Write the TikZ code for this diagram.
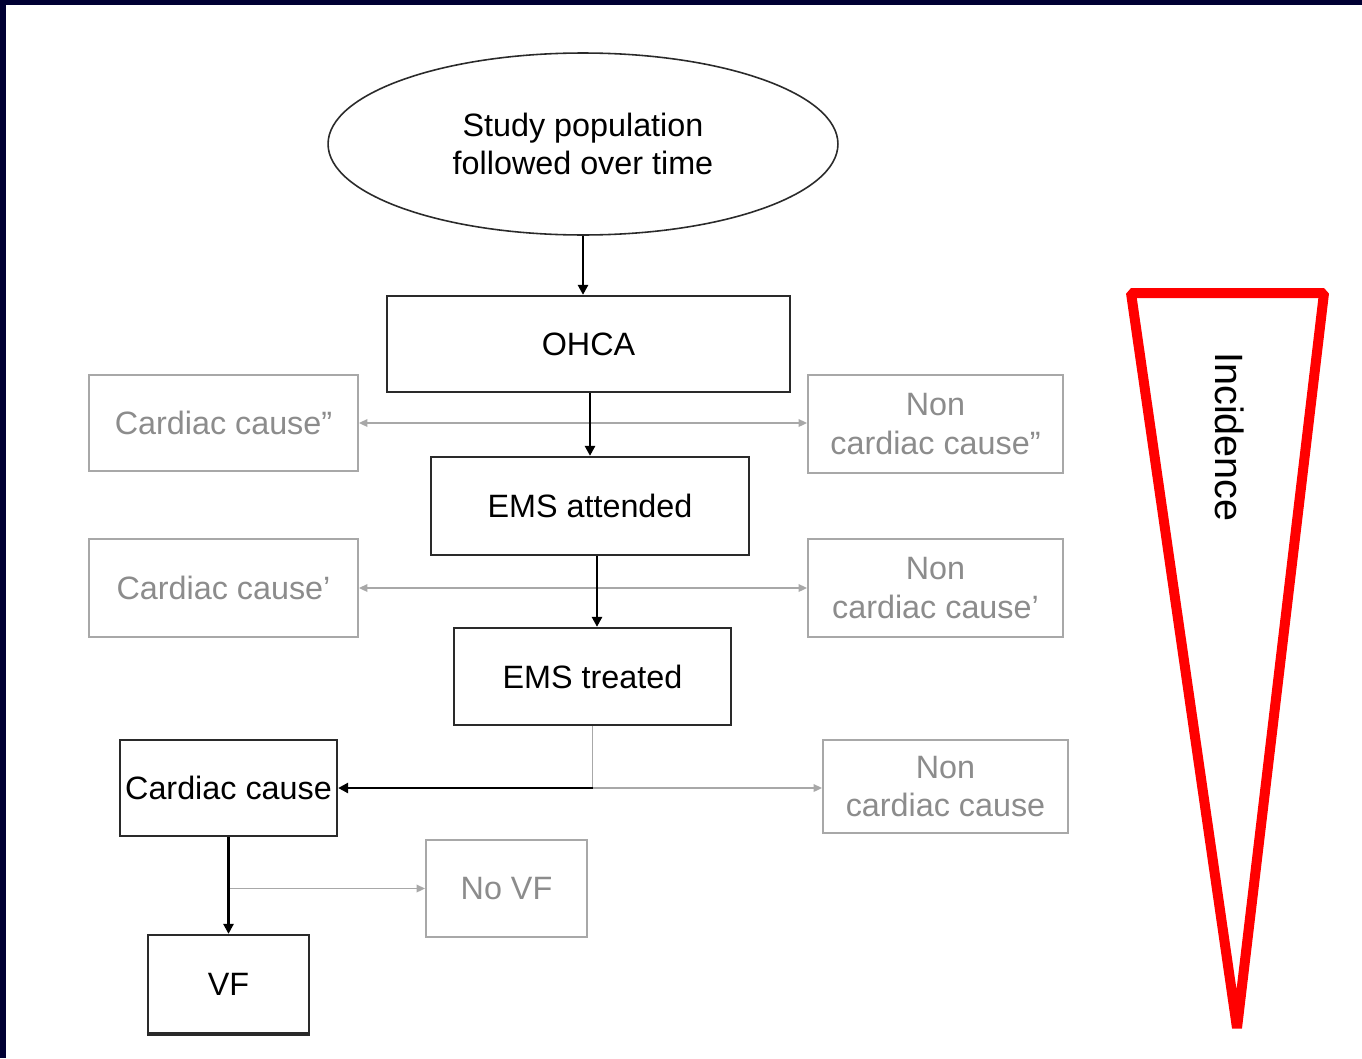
\documentclass[tikz,border=0pt]{standalone}
\usepackage{fontspec}
\setmainfont{Liberation Sans}
\usetikzlibrary{shapes.geometric,arrows.meta}
\definecolor{slidenavy}{HTML}{000033}
\definecolor{boxline}{HTML}{2A2A2A}
\definecolor{greyline}{HTML}{A8A8A8}
\definecolor{greytext}{HTML}{8C8C8C}
\definecolor{wedgered}{HTML}{FF0000}
\tikzset{
  stage/.style={draw=boxline, line width=1.3pt, inner sep=0pt, text=black,
    font=\fontsize{18.4}{21.8}\selectfont, align=center},
  other/.style={draw=greyline, line width=1.1pt, inner sep=0pt, text=greytext,
    font=\fontsize{18.4}{21.8}\selectfont, align=center},
  arr/.style={draw=black, line width=1.5pt, -{Triangle[length=0.2cm,width=0.2cm]}},
  garr/.style={draw=greyline, line width=1.1pt, -{Triangle[length=0.17cm,width=0.15cm]}},
  gline/.style={draw=greyline, line width=1.1pt},
}

\begin{document}
\begin{tikzpicture}[x=0.02cm,y=-0.02cm]
    \useasboundingbox (0,0) rectangle (1362,1058);
    % slide frame
    \fill[slidenavy] (0,0) rectangle (1362,1058);
    \fill[white] (6,5) rectangle (1362,1058);

    % main chain
    \node[stage, ellipse, line width=0.9pt, minimum width=10.2cm, minimum height=3.64cm]
      (pop) at (583,144) {Study population\\followed over time};
    \node[stage, minimum width=8.06cm, minimum height=1.92cm] (ohca) at (588.5,344) {OHCA};
    \node[stage, minimum width=6.36cm, minimum height=1.96cm] (ems1) at (590,506) {EMS attended};
    \node[stage, minimum width=5.54cm, minimum height=1.94cm] (ems2) at (592.5,676.5) {EMS treated};
    \node[stage, minimum width=4.34cm, minimum height=1.92cm] (cc) at (228.5,788) {Cardiac cause};
    \node[stage, minimum width=3.22cm, minimum height=1.96cm] (vf) at (228.5,984) {VF};
    \draw[boxline, line width=2.4pt] (vf.south west) -- (vf.south east);

    % excluded branches
    \node[other, minimum width=5.38cm, minimum height=1.92cm] (cc2) at (223.5,423) {Cardiac cause”};
    \node[other, minimum width=5.1cm, minimum height=1.96cm] (ncc2) at (935.5,424) {Non\\cardiac cause”};
    \node[other, minimum width=5.38cm, minimum height=1.96cm] (cc1) at (223.5,588) {Cardiac cause’};
    \node[other, minimum width=5.1cm, minimum height=1.96cm] (ncc1) at (935.5,588) {Non\\cardiac cause’};
    \node[other, minimum width=4.9cm, minimum height=1.86cm] (ncc) at (945.5,786.5) {Non\\cardiac cause};
    \node[other, minimum width=3.22cm, minimum height=1.94cm] (novf) at (506.5,888.5) {No VF};

    % grey side arrows
    \draw[garr, {Triangle[length=0.17cm,width=0.15cm]}-{Triangle[length=0.17cm,width=0.15cm]}]
      (cc2.east) -- (cc2.east -| ncc2.west);
    \draw[garr, {Triangle[length=0.17cm,width=0.15cm]}-{Triangle[length=0.17cm,width=0.15cm]}]
      (cc1.east) -- (cc1.east -| ncc1.west);
    \coordinate (split) at (ems2.south |- cc.east);
    \draw[gline] (ems2.south) -- (split);
    \draw[garr] (split) -- (split -| ncc.west);
    \coordinate (branch) at (cc.south |- novf.west);
    \draw[garr] (branch) -- (novf.west);

    % black arrows
    \draw[arr] (pop.south) -- (pop.south |- ohca.north);
    \draw[arr] (ems1.north |- ohca.south) -- (ems1.north);
    \draw[arr] ([xshift=0.09cm]ems2.north |- ems1.south) -- ([xshift=0.09cm]ems2.north);
    \draw[arr] (split) -- (cc.east);
    \draw[arr] (cc.south) -- (vf.north);

    % incidence wedge
    \draw[wedgered, line width=0.2cm, line join=bevel]
      (1131,293) -- (1324,293) -- (1237,1028) -- cycle;
    \node[rotate=-90, font=\fontsize{22.5}{26}\selectfont] (inc) at (1230,437) {Incidence};
\end{tikzpicture}
\end{document}
